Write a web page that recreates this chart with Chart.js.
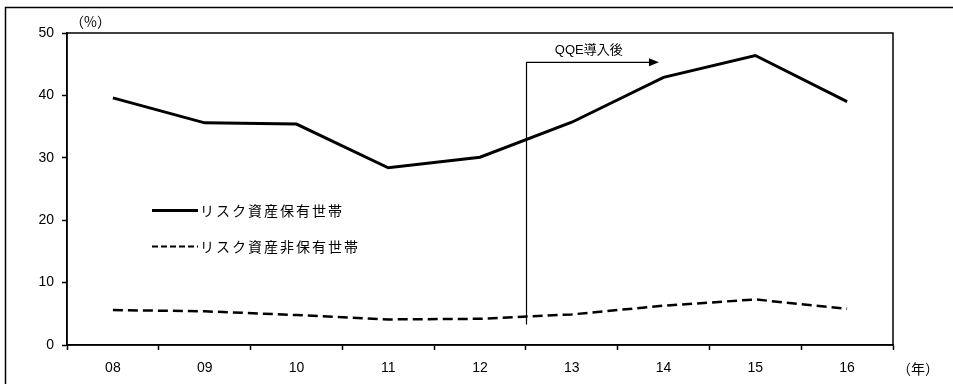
<!DOCTYPE html>
<html lang="ja">
<head>
<meta charset="utf-8">
<script src="https://cdn.jsdelivr.net/npm/chart.js@4/dist/chart.umd.min.js"></script>
<style>
  html, body { margin: 0; padding: 0; background: #fff; }
  #wrap { width: 953px; height: 384px; }
</style>
</head>
<body>
<div id="wrap"><canvas id="chart" width="953" height="384"></canvas></div>
<script>
// Survey years (x categories)
const YEARS = ["08", "09", "10", "11", "12", "13", "14", "15", "16"];
// Share of households, %
const RISK_HOLDERS = [39.6, 35.6, 35.4, 28.4, 30.1, 35.7, 42.9, 46.4, 39.0];
const NON_HOLDERS = [5.6, 5.4, 4.8, 4.1, 4.2, 4.9, 6.3, 7.3, 5.8];
const SERIES_NAMES = ["リスク資産保有世帯", "リスク資産非保有世帯"];

// QQE marker, in axis units (x = category index, y = %)
const QQE_LABEL = "QQE導入後";
const QQE_X = 4.5;
const QQE_ARROW_END = 5.95;
const QQE_TOP = 45.3;
const QQE_BOTTOM = 3.3;

const Y_MIN = 0;
const Y_MAX = 50;
const Y_STEP = 10;

const LATIN_FONT = "'Liberation Sans', Arial, sans-serif";
const CJK_FONT = "'Noto Sans CJK JP', sans-serif";
const MIXED_FONT = "'Liberation Sans', 'Noto Sans CJK JP', sans-serif";
const INK = "#000";

/**
 * Outer frame, plot box, unit labels, in-plot legend and the QQE arrow.
 * Everything is drawn after the datasets so it sits on top.
 */
const decorations = {
  id: "decorations",
  afterDraw(chart) {
    const { ctx, chartArea: area, scales } = chart;
    const x = scales.x;
    const y = scales.y;
    ctx.save();

    // page frame (top and left edges)
    ctx.strokeStyle = INK;
    ctx.lineWidth = 1.5;
    ctx.beginPath();
    ctx.moveTo(953, 7.5);
    ctx.lineTo(5.5, 7.5);
    ctx.lineTo(5.5, 384);
    ctx.stroke();

    // plot box
    ctx.lineWidth = 1.5;
    ctx.strokeRect(area.left, area.top, area.right - area.left, area.bottom - area.top);

    // unit labels
    ctx.fillStyle = INK;
    ctx.textBaseline = "middle";
    ctx.textAlign = "left";
    ctx.font = "14px " + CJK_FONT;
    ctx.fillText("（%）", 70, 22);
    ctx.fillText("（年）", 897, 369);

    // QQE marker: vertical line then arrow to the right
    const qx = Math.round(x.getPixelForValue(QQE_X)) + 0.5;
    const qTop = y.getPixelForValue(QQE_TOP);
    const qBottom = y.getPixelForValue(QQE_BOTTOM);
    const qEnd = x.getPixelForValue(QQE_ARROW_END);
    ctx.lineWidth = 1.2;
    ctx.beginPath();
    ctx.moveTo(qx, qBottom);
    ctx.lineTo(qx, qTop);
    ctx.lineTo(qEnd - 9, qTop);
    ctx.stroke();
    ctx.beginPath();
    ctx.moveTo(qEnd, qTop);
    ctx.lineTo(qEnd - 10, qTop - 4);
    ctx.lineTo(qEnd - 10, qTop + 4);
    ctx.closePath();
    ctx.fill();
    ctx.textAlign = "center";
    ctx.font = "13px " + MIXED_FONT;
    ctx.fillText(QQE_LABEL, (qx + qEnd) / 2 - 4, qTop - 12);

    // legend inside the plot; the dashed sample uses a shorter pattern
    ctx.textAlign = "left";
    ctx.font = "14px " + CJK_FONT;
    ctx.letterSpacing = "2px";
    chart.data.datasets.forEach((ds, i) => {
      const ly = 210.5 + i * 36;
      const dashed = ds.borderDash && ds.borderDash.length;
      ctx.lineWidth = dashed ? 2 : ds.borderWidth;
      ctx.setLineDash(dashed ? [6, 3] : []);
      ctx.beginPath();
      ctx.moveTo(152, ly);
      ctx.lineTo(198, ly);
      ctx.stroke();
      ctx.setLineDash([]);
      ctx.fillText(ds.label, 200, ly);
    });

    ctx.restore();
  },
};

function makeDataset(label, data, dash, width) {
  return {
    label,
    data,
    borderColor: INK,
    borderWidth: width,
    borderDash: dash,
    pointRadius: 0,
    tension: 0,
    fill: false,
  };
}

const tickFont = { family: LATIN_FONT, size: 14 };

new Chart(document.getElementById("chart"), {
  type: "line",
  data: {
    labels: YEARS,
    datasets: [
      makeDataset(SERIES_NAMES[0], RISK_HOLDERS, [], 3),
      makeDataset(SERIES_NAMES[1], NON_HOLDERS, [10, 5], 2.5),
    ],
  },
  options: {
    responsive: false,
    animation: false,
    devicePixelRatio: 1,
    layout: { padding: { top: 33, right: 60, left: 0, bottom: 0 } },
    plugins: {
      legend: { display: false },
      tooltip: { enabled: false },
      title: { display: false },
    },
    scales: {
      x: {
        type: "category",
        offset: true,
        grid: {
          offset: true,
          drawOnChartArea: false,
          drawTicks: true,
          tickLength: 5,
          tickWidth: 1.5,
          tickColor: INK,
        },
        border: { display: true, color: INK, width: 1.5 },
        ticks: { color: INK, font: tickFont, padding: 10, maxRotation: 0 },
        afterFit(scale) {
          scale.height = 39;
        },
      },
      y: {
        min: Y_MIN,
        max: Y_MAX,
        grid: {
          drawOnChartArea: false,
          drawTicks: true,
          tickLength: 5,
          tickWidth: 1.5,
          tickColor: INK,
        },
        border: { display: true, color: INK, width: 1.5 },
        ticks: { stepSize: Y_STEP, color: INK, font: tickFont, padding: 8 },
        afterFit(scale) {
          scale.width = 67;
        },
      },
    },
  },
  plugins: [decorations],
});
</script>
</body>
</html>
